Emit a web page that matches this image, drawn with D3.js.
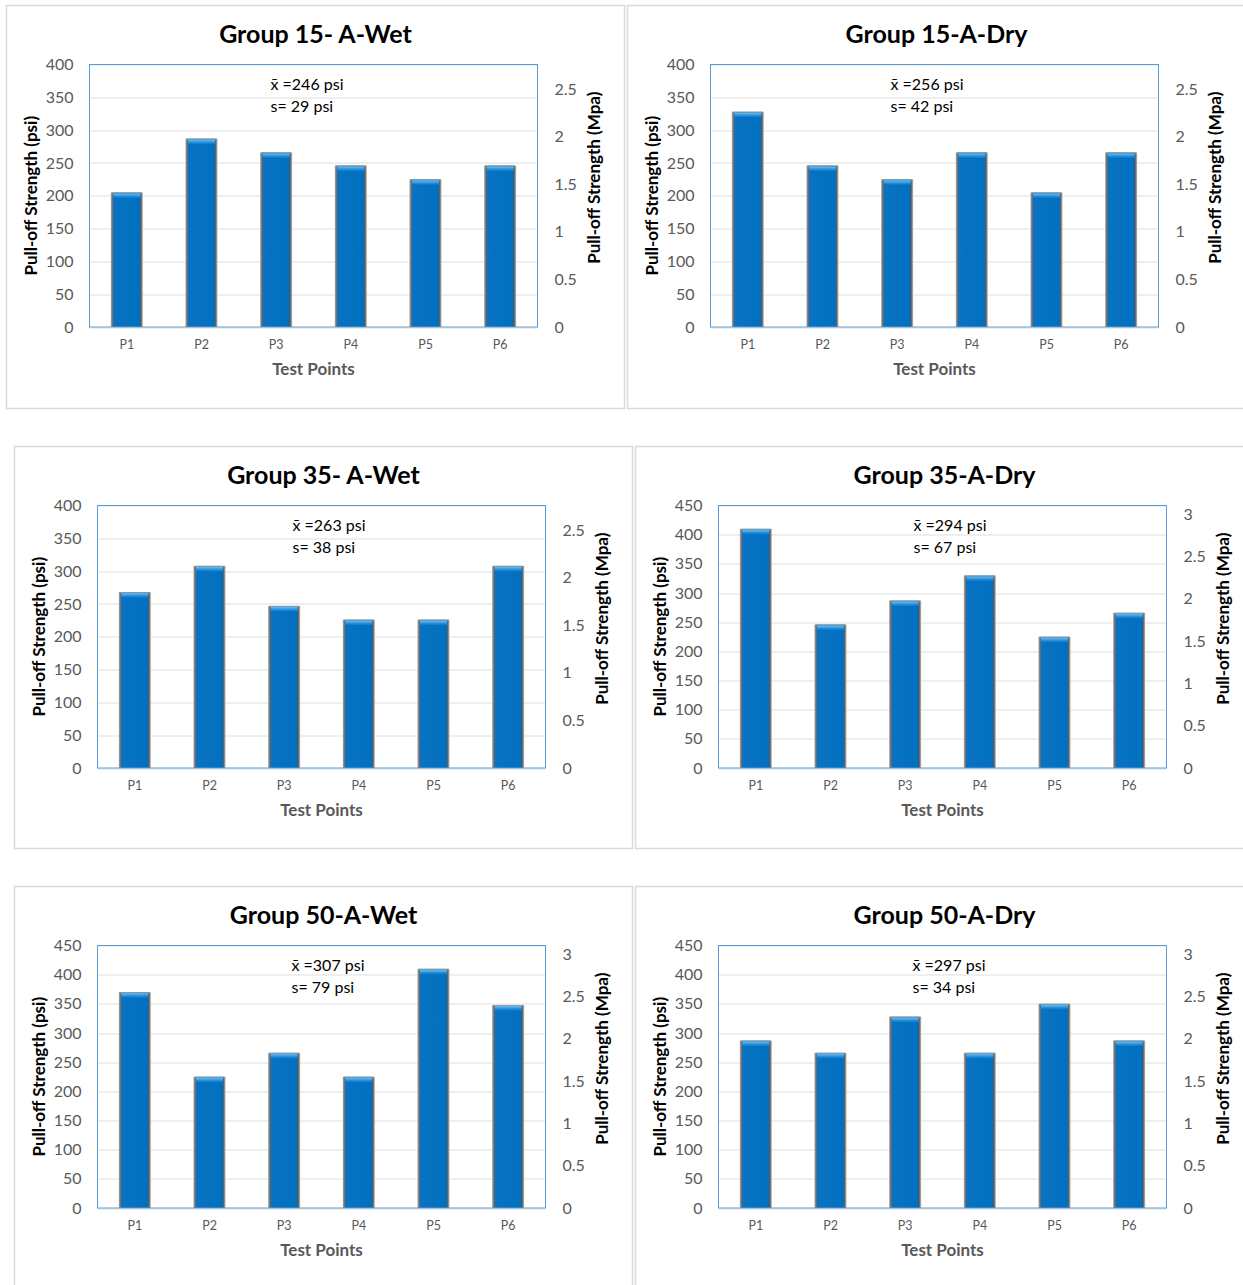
<!DOCTYPE html>
<html>
<head>
<meta charset="utf-8">
<script src="https://cdn.jsdelivr.net/npm/d3@7"></script>
<style>
  html, body { margin: 0; padding: 0; background: #fff; }
  svg { display: block; font-family: Lato, "Open Sans", sans-serif; }
</style>
</head>
<body>
<svg id="chart" width="1243" height="1285"></svg>
<script>
// Pull-off strength of six coating groups, six test points each
const testPoints = ["P1", "P2", "P3", "P4", "P5", "P6"];
const panelTitles = ["Group 15- A-Wet", "Group 15-A-Dry", "Group 35- A-Wet",
                     "Group 35-A-Dry", "Group 50-A-Wet", "Group 50-A-Dry"];
const group15Wet = [205, 287, 266, 246, 225, 246];
const group15Dry = [328, 246, 225, 266, 205, 266];
const group35Wet = [268, 308, 247, 226, 226, 308];
const group35Dry = [410, 246, 287, 330, 225, 266];
const group50Wet = [370, 225, 266, 225, 410, 348];
const group50Dry = [287, 266, 328, 266, 350, 287];
const meanPsi = [246, 256, 263, 294, 307, 297];
const stdPsi = [29, 42, 38, 67, 79, 34];
const psiAxisMax = [400, 400, 400, 450, 450, 450];
const psiTicks = [0, 50, 100, 150, 200, 250, 300, 350, 400, 450];
const mpaTicks = [0, 0.5, 1, 1.5, 2, 2.5, 3];
const PSI_TO_MPA = 0.00689476;

const series = [group15Wet, group15Dry, group35Wet, group35Dry, group50Wet, group50Dry];

// panel frames and annotation offsets
const frames = [
  { x: 6,   y: 5,   w: 618, h: 403, note: 181 },
  { x: 627, y: 5,   w: 640, h: 403, note: 180 },
  { x: 14,  y: 446, w: 618, h: 402, note: 195 },
  { x: 635, y: 446, w: 640, h: 402, note: 195 },
  { x: 14,  y: 886, w: 618, h: 420, note: 194 },
  { x: 635, y: 886, w: 640, h: 420, note: 194 }
];

const svg = d3.select("#chart");
const defs = svg.append("defs");

// bar body: blue core with grey bevelled sides
const side = defs.append("linearGradient").attr("id", "barSide")
  .attr("x1", "0").attr("x2", "1").attr("y1", "0").attr("y2", "0");
[["0%", "#b5b5b5"], ["4%", "#7a7a7a"], ["7%", "#5d6a78"], ["9%", "#0a72c2"],
 ["90%", "#0070c0"], ["92%", "#3d5873"], ["95%", "#6e6e6e"], ["100%", "#c4c4c4"]]
  .forEach(([o, c]) => side.append("stop").attr("offset", o).attr("stop-color", c));

const cap = defs.append("linearGradient").attr("id", "barCap")
  .attr("x1", "0").attr("x2", "0").attr("y1", "0").attr("y2", "1");
[["0%", "#6cc2f7"], ["45%", "#2d98e2"], ["100%", "#0070c0"]]
  .forEach(([o, c]) => cap.append("stop").attr("offset", o).attr("stop-color", c));

const plotW = 448, plotH = 262.5, plotX = 83.5, plotY = 59.5;

frames.forEach((f, i) => {
  const g = svg.append("g").attr("transform", `translate(${f.x},${f.y})`);

  g.append("rect").attr("x", 0.5).attr("y", 0.5).attr("width", f.w).attr("height", f.h)
    .attr("fill", "#fff").attr("stroke", "#d9d9d9").attr("stroke-width", 1.5);

  const maxPsi = psiAxisMax[i];
  const x = d3.scaleBand().domain(testPoints).range([0, plotW])
    .paddingInner(0.57).paddingOuter(0.285);
  const y = d3.scaleLinear().domain([0, maxPsi]).range([plotH, 0]);
  const y2 = d3.scaleLinear().domain([0, maxPsi * PSI_TO_MPA]).range([plotH, 0]);

  const p = g.append("g").attr("transform", `translate(${plotX},${plotY})`);

  // gridlines
  const leftTicks = psiTicks.filter(t => t <= maxPsi);
  p.selectAll("line.grid").data(leftTicks).join("line").attr("class", "grid")
    .attr("x1", 0).attr("x2", plotW)
    .attr("y1", d => Math.round(y(d)) + 0.5).attr("y2", d => Math.round(y(d)) + 0.5)
    .attr("stroke", "#dedede").attr("stroke-width", 1);

  // bars
  const bars = p.selectAll("g.bar").data(series[i].map((v, k) => ({ k: testPoints[k], v })))
    .join("g").attr("class", "bar");
  bars.append("rect")
    .attr("x", d => x(d.k)).attr("width", x.bandwidth())
    .attr("y", d => y(d.v)).attr("height", d => plotH - y(d.v))
    .attr("fill", "url(#barSide)");
  bars.append("rect")
    .attr("x", d => x(d.k) + 2.5).attr("width", x.bandwidth() - 5)
    .attr("y", d => y(d.v) + 1).attr("height", 5)
    .attr("fill", "url(#barCap)");
  bars.append("line")
    .attr("x1", d => x(d.k) + 1).attr("x2", d => x(d.k) + x.bandwidth() - 1)
    .attr("y1", d => y(d.v) + 0.5).attr("y2", d => y(d.v) + 0.5)
    .attr("stroke", "#8f9aa5").attr("stroke-width", 1);

  // plot area frame
  p.append("rect").attr("x", 0).attr("y", 0).attr("width", plotW).attr("height", plotH)
    .attr("fill", "none").attr("stroke", "#5b9bd5").attr("stroke-width", 1);

  // left psi axis
  const la = p.append("g").call(d3.axisLeft(y).tickValues(leftTicks).tickSize(0).tickPadding(16));
  la.select(".domain").remove();
  la.selectAll("text").attr("font-size", 16).attr("fill", "#595959")
    .attr("font-family", "Lato, sans-serif");

  // right MPa axis
  const rightTicks = mpaTicks.filter(t => t <= maxPsi * PSI_TO_MPA);
  const ra = p.append("g").attr("transform", `translate(${plotW},0)`)
    .call(d3.axisRight(y2).tickValues(rightTicks).tickSize(0).tickPadding(17).tickFormat(d => String(d)));
  ra.select(".domain").remove();
  ra.selectAll("text").attr("font-size", 16).attr("fill", "#595959")
    .attr("font-family", "Lato, sans-serif");

  // category axis
  const ba = p.append("g").attr("transform", `translate(0,${plotH})`)
    .call(d3.axisBottom(x).tickSize(0).tickPadding(13));
  ba.select(".domain").remove();
  ba.selectAll("text").attr("font-size", 12.5).attr("fill", "#595959")
    .attr("font-family", "Lato, sans-serif");

  // titles
  p.append("text").attr("x", plotW / 2 + 2).attr("y", -22)
    .attr("text-anchor", "middle").attr("font-size", 25).attr("font-weight", 700)
    .attr("fill", "#000").text(panelTitles[i]);

  p.append("text").attr("x", plotW / 2).attr("y", plotH + 48)
    .attr("text-anchor", "middle").attr("font-size", 17).attr("font-weight", 700)
    .attr("fill", "#595959").text("Test Points");

  p.append("text")
    .attr("transform", `translate(${-53},${plotH / 2}) rotate(-90)`)
    .attr("text-anchor", "middle").attr("font-size", 17).attr("font-weight", 700)
    .attr("fill", "#000").text("Pull-off Strength (psi)");

  p.append("text")
    .attr("transform", `translate(${plotW + 62},${plotH / 2 - 18}) rotate(-90)`)
    .attr("text-anchor", "middle").attr("font-size", 17).attr("font-weight", 700)
    .attr("fill", "#000").text("Pull-off Strength (Mpa)");

  // mean and standard deviation note
  const note = p.append("g").attr("transform", `translate(${f.note},0)`);
  note.append("text").attr("x", 0).attr("y", 25).attr("font-size", 16).attr("fill", "#000")
    .text(`x\u0304 =${meanPsi[i]} psi`);
  note.append("text").attr("x", 0).attr("y", 47).attr("font-size", 16).attr("fill", "#000")
    .text(`s= ${stdPsi[i]} psi`);
});
</script>
</body>
</html>
